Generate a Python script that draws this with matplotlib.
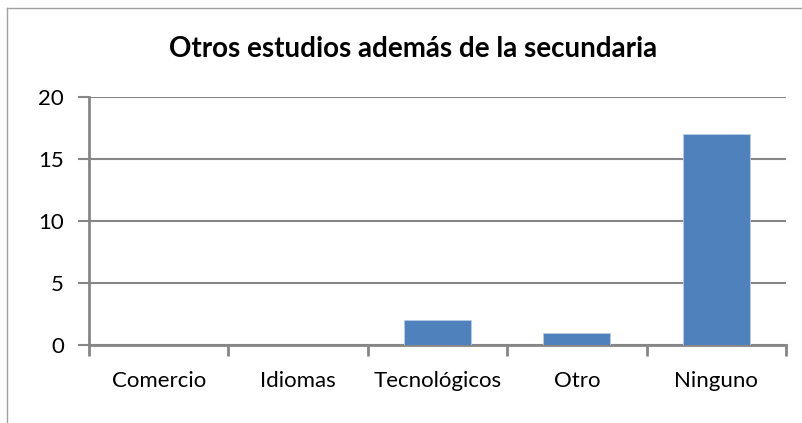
import matplotlib.pyplot as plt
from matplotlib.lines import Line2D

categorias = ['Comercio', 'Idiomas', 'Tecnológicos', 'Otro', 'Ninguno']
valores = [0, 0, 2, 1, 17]
yticks = [0, 5, 10, 15, 20]

plt.rcParams['font.family'] = ['Lato', 'DejaVu Sans']

fig = plt.figure(figsize=(8.03, 4.23), dpi=100)
ax = fig.add_axes([0.1108, 0.1844, 0.8680, 0.5863])

gris = '#868686'
xs = range(len(categorias))
ax.bar(xs, valores, width=0.48, color='#4F81BD', edgecolor='#B9CDE5', linewidth=0.6, zorder=3)

ax.set_xlim(-0.5, len(categorias) - 0.5)
ax.set_ylim(0, 20)
ax.set_yticks(yticks)
ax.set_yticklabels([str(v) for v in yticks], fontsize=16)
ax.yaxis.grid(True, color=gris, linewidth=1.5, zorder=0)

# ticks del eje x en los limites de categoria
ax.set_xticks([i - 0.5 for i in range(len(categorias) + 1)], minor=False)
ax.set_xticklabels([])
ax.set_xticks(list(xs), minor=True)
ax.set_xticklabels(categorias, minor=True, fontsize=16)
ax.tick_params(axis='x', which='major', length=8, width=2, color=gris, direction='out')
ax.tick_params(axis='x', which='minor', length=0, pad=19)
ax.tick_params(axis='y', length=8, width=1.5, color=gris, direction='out', pad=10)

for lado in ['top', 'right']:
    ax.spines[lado].set_visible(False)
ax.spines['left'].set_color(gris)
ax.spines['left'].set_linewidth(2)
ax.spines['bottom'].set_color(gris)
ax.spines['bottom'].set_linewidth(2)

fig.suptitle('Otros estudios además de la secundaria', fontsize=20, fontweight='bold',
             x=0.514, y=0.915)

# borde del area del grafico
fig.add_artist(Line2D([0.0087, 0.0087], [0, 0.981], color='#A0A0A0', linewidth=1, transform=fig.transFigure))
fig.add_artist(Line2D([0.0087, 1], [0.981, 0.981], color='#A0A0A0', linewidth=1, transform=fig.transFigure))

fig.savefig('out.png', dpi=100)
